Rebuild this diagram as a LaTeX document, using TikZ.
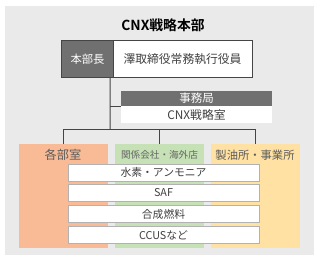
\documentclass[tikz,border=0pt]{standalone}
\usepackage{fontspec}
\setmainfont{Noto Sans CJK JP}[BoldFont={* Bold}]
\usetikzlibrary{positioning}
\definecolor{bggray}{HTML}{EAEAEA}
\definecolor{headgray}{HTML}{707070}
\definecolor{framegray}{HTML}{454545}
\definecolor{txtgray}{HTML}{404040}
\definecolor{orgcol}{HTML}{F8BB96}
\definecolor{grncol}{HTML}{C6E1B5}
\definecolor{ylwcol}{HTML}{FFE1A3}
\newcommand{\hqname}{CNX戦略本部}

\begin{document}
\begin{tikzpicture}[x=1pt,y=-1pt,
  darkcell/.style={fill=headgray,text=white,inner sep=0pt},
  whitecell/.style={fill=white,text=txtgray,inner sep=0pt},
  rowbox/.style={whitecell,draw=gray!60,minimum width=191pt,minimum height=17pt,font=\fontsize{10.8}{11}\selectfont},
  colbox/.style={inner sep=0pt,minimum width=89pt,minimum height=104pt,anchor=north},
  orgline/.style={draw=framegray,line width=1pt}]
\useasboundingbox (0,0) rectangle (320,259);
\fill[bggray] (5,6) rectangle (314,255);
\node[font=\fontsize{13.8}{14}\bfseries] (title) at (163,25) {\hqname};
% top box
\node[darkcell,minimum width=51pt,minimum height=36pt,font=\fontsize{11.3}{12}\selectfont] (chief) at (87.5,59) {本部長};
\node[whitecell,minimum width=139pt,minimum height=36pt,font=\fontsize{11.8}{12}\selectfont] (exec) at (182.5,59) {澤取締役常務執行役員};
\draw[framegray,line width=1pt] (chief.north west) rectangle (exec.south east);
\draw[framegray,line width=1pt] (chief.north east) -- (chief.south east);
% secretariat
\node[darkcell,minimum width=151pt,minimum height=15pt,font=\fontsize{11.5}{12}\selectfont] (office) at (196.5,98.5) {事務局};
\node[whitecell,minimum width=151pt,minimum height=17pt,font=\fontsize{11.8}{12}\selectfont,below=0pt of office] (room) {CNX戦略室};
% columns
\node[colbox,fill=orgcol] (depts) at (63.5,144) {};
\node[colbox,fill=grncol] (group) at (159.5,144) {};
\node[colbox,fill=ylwcol] (plants) at (255.5,144) {};
\node[text=txtgray!85,font=\fontsize{12.2}{13}\selectfont] (deptslbl) at (63,155) {各部室};
\node[text=txtgray!80,font=\fontsize{9.6}{10}\selectfont] (grouplbl) at (159.5,155) {関係会社・海外店};
\node[text=txtgray!85,font=\fontsize{11.3}{12}\selectfont] (plantslbl) at (255,155) {製油所・事業所};
% themes
\node[rowbox] (h2) at (163.5,172.5) {水素・アンモニア};
\node[rowbox] (saf) at (163.5,193) {SAF};
\node[rowbox] (efuel) at (163.5,214) {合成燃料};
\node[rowbox] (ccus) at (163.5,235) {CCUSなど};
% lines
\coordinate (stem) at ([xshift=-3pt]chief.south east);
\coordinate (split) at (110,129);
\draw[orgline] (stem) -- (split);
\draw[orgline] (stem |- office.south west) -- (office.south west);
\draw[orgline] (depts.north |- split) -- (plants.north |- split);
\draw[orgline] (depts.north |- split) -- (depts.north);
\draw[orgline] (group.north |- split) -- (group.north);
\draw[orgline] (plants.north |- split) -- (plants.north);
\end{tikzpicture}
\end{document}
